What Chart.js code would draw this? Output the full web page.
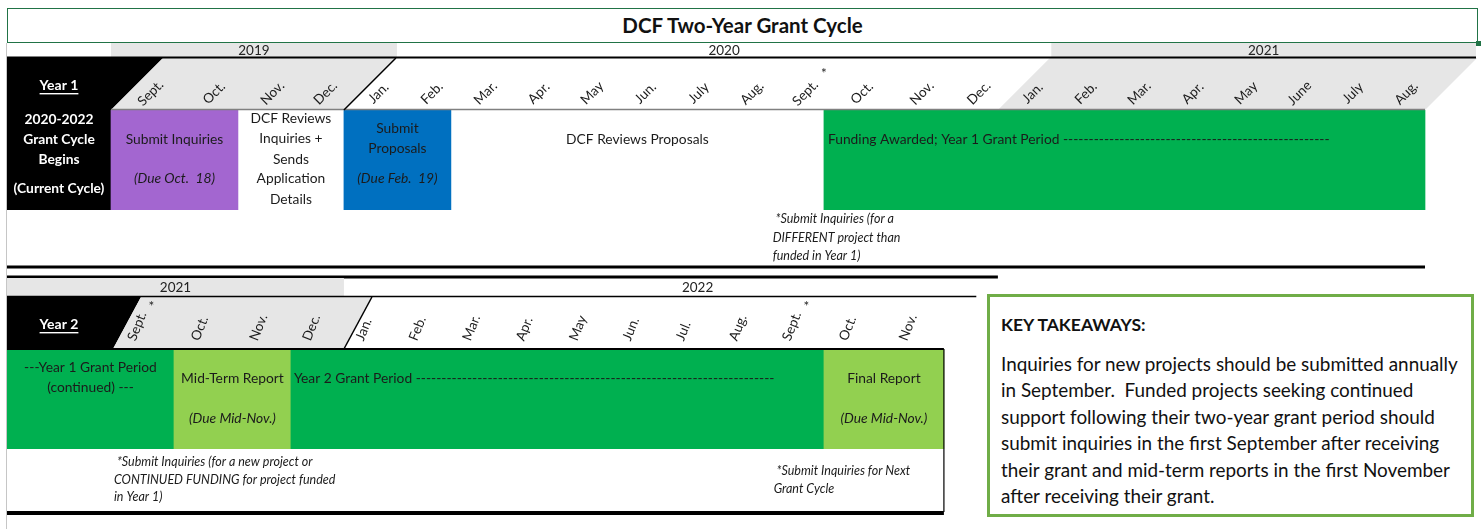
<!DOCTYPE html>
<html>
<head>
<meta charset="utf-8">
<title>DCF Two-Year Grant Cycle</title>
<script src="https://cdn.jsdelivr.net/npm/chart.js@4.4.1/dist/chart.umd.min.js"></script>
<style>
    html, body { margin: 0; padding: 0; background: #fff; }
    body { width: 1484px; height: 529px; position: relative; overflow: hidden; font-family: Lato, "Open Sans", sans-serif; color: #111; }
    #title-box {
        position: absolute; left: 7px; top: 7.5px; width: 1471px; height: 35px;
        box-sizing: border-box; border: 1.5px solid #217346;
        text-align: center; font-weight: bold; font-size: 20.5px; line-height: 32px;
    }
    #title-box .handle { position: absolute; right: -4px; bottom: -4px; width: 5px; height: 5px; background: #217346; }
    canvas { position: absolute; left: 0; }
    #year1 { top: 43px; }
    #year2 { top: 273px; }
    #takeaways {
        position: absolute; left: 987px; top: 294px; width: 487px; height: 223px;
        box-sizing: border-box; border: 3px solid #70AD47; background: #fff;
        padding: 17px 0 0 11px; white-space: nowrap;
    }
    #takeaways h3 { margin: 0; font-size: 17.5px; line-height: 22px; font-weight: bold; }
    #takeaways p { margin: 15px 0 0 0; font-size: 18.9px; line-height: 26.4px; }
</style>
</head>
<body>
<div id="title-box">DCF Two-Year Grant Cycle<div class="handle"></div></div>
<canvas id="year1" width="1484" height="230"></canvas>
<canvas id="year2" width="1484" height="256"></canvas>
<div id="takeaways">
    <h3>KEY TAKEAWAYS:</h3>
    <p>Inquiries for new projects should be submitted annually<br>
    in September.&nbsp; Funded projects seeking continued<br>
    support following their two-year grant period should<br>
    submit inquiries in the first September after receiving<br>
    their grant and mid-term reports in the first November<br>
    after receiving their grant.</p>
</div>
<script>
// ====== Chart Data ======
// x values count spreadsheet columns: 0 = label column, 1 = first Sept., ...
const year1Tasks = ['Grant Cycle Begins', 'Submit Inquiries', 'DCF Reviews Inquiries', 'Submit Proposals', 'DCF Reviews Proposals', 'Funding Awarded; Year 1 Grant Period'];
const year1Start = [0, 1, 3, 5, 7, 14];
const year1End = [1, 3, 5, 7, 14, 25];
const year1Months = ['Sept.', 'Oct.', 'Nov.', 'Dec.', 'Jan.', 'Feb.', 'Mar.', 'Apr.', 'May', 'Jun.', 'July', 'Aug.',
    'Sept.', 'Oct.', 'Nov.', 'Dec.', 'Jan.', 'Feb.', 'Mar.', 'Apr.', 'May', 'June', 'July', 'Aug.'];
const year1Starred = [12];
const year1Years = ['2019', '2020', '2021'];
const year1YearStart = [1, 6, 18];
const year1YearEnd = [6, 18, 26];

const year2Tasks = ['Year 1 Grant Period (continued)', 'Mid-Term Report', 'Year 2 Grant Period', 'Final Report'];
const year2Start = [0, 2, 4, 14];
const year2End = [2, 4, 14, 16];
const year2Months = ['Sept.', 'Oct.', 'Nov.', 'Dec.', 'Jan.', 'Feb.', 'Mar.', 'Apr.', 'May', 'Jun.', 'Jul.', 'Aug.',
    'Sept.', 'Oct.', 'Nov.'];
const year2Starred = [0, 12];
const year2Years = ['2021', '2022'];
const year2YearStart = [0, 5];
const year2YearEnd = [5, 18];

// ====== Layout & Styles ======
const FONT = 'Lato, "Open Sans", sans-serif';
const INK = '#1b1b1b';
const SHADE = '#e6e6e6';
const NONE = 'rgba(0,0,0,0)';
const CELL_SIZE = 13.8;
const year1Colors = ['#000000', '#a366d0', NONE, '#0070c0', NONE, '#00b050'];
const year2Colors = ['#00b050', '#92d050', '#00b050', '#92d050'];

// spreadsheet column widths (px) - label col, Sept..Aug, spare col
const COL_WIDTHS = [104, 63, 64, 53, 53, 53, 54,
    53.3, 53.3, 53.3, 53.3, 53.3, 53.3, 53.3,
    60, 60, 54,
    53.4, 53.4, 53.4, 53.4, 53.4, 53.4, 53.4, 53.4, 51];

// text inside each bar: [text, offset from bar top, style]
const year1Cells = [
    { color: '#fff', weight: 'bold', lines: [['2020-2022', 10], ['Grant Cycle', 30], ['Begins', 50], ['(Current Cycle)', 79]] },
    { lines: [['Submit Inquiries', 30], ['(Due Oct.  18)', 69, 'italic']] },
    { lines: [['DCF Reviews', 9], ['Inquiries +', 29], ['Sends', 50], ['Application', 69], ['Details', 90]] },
    { lines: [['Submit', 19], ['Proposals', 39], ['(Due Feb.  19)', 69, 'italic']] },
    { lines: [['DCF Reviews Proposals', 30]] },
    { align: 'left', dx: 4, lines: [['Funding Awarded; Year 1 Grant Period ', 30]], dashTo: 23.3 }
];
const year2Cells = [
    { lines: [['---Year 1 Grant Period', 19], ['(continued) ---', 39]] },
    { lines: [['Mid-Term Report', 30], ['(Due Mid-Nov.)', 70, 'italic']] },
    { align: 'left', dx: 3, lines: [['Year 2 Grant Period ', 30]], dashTo: 13.15 },
    { lines: [['Final Report', 30], ['(Due Mid-Nov.)', 70, 'italic']] }
];

// footnotes under the bars: column, x nudge, [text, offset from bar top]
const year1Notes = [
    { at: 13, dx: 2, lines: [[' *Submit Inquiries (for a', 109], ['DIFFERENT project than', 128], ['funded in Year 1)', 146]] }
];
const year2Notes = [
    { at: 1, dx: 3, lines: [[' *Submit Inquiries (for a new project or', 113], ['CONTINUED FUNDING for project funded', 131], ['in Year 1)', 148]] },
    { at: 13, dx: 3, lines: [[' *Submit Inquiries for Next', 122], ['Grant Cycle', 140]] }
];

// ====== Column Scale ======
// linear scale whose units are spreadsheet columns of uneven width
class ColumnScale extends Chart.LinearScale {
    static id = 'columns';
    static defaults = {};

    getPixelForValue(value) {
        const total = COL_WIDTHS.reduce((a, b) => a + b, 0);
        let acc = 0;
        for (let i = 0; i < COL_WIDTHS.length; i++) {
            const step = Math.min(1, value - i);
            if (step <= 0) break;
            acc += step * COL_WIDTHS[i];
        }
        return this.left + (acc / total) * this.width;
    }
}
Chart.register(ColumnScale);

// ====== Drawing Helpers ======
function text(ctx, str, x, y, o = {}) {
    ctx.save();
    ctx.font = `${o.style || ''} ${o.weight || ''} ${o.size || CELL_SIZE}px ${FONT}`;
    ctx.fillStyle = o.color || INK;
    ctx.textAlign = o.align || 'center';
    ctx.textBaseline = 'middle';
    if (o.angle) {
        ctx.translate(x, y);
        ctx.rotate(o.angle * Math.PI / 180);
        ctx.fillText(str, 0, 0);
    } else {
        ctx.fillText(str, x, y);
    }
    if (o.underline) {
        const w = ctx.measureText(str).width;
        ctx.fillRect(x - w / 2, y + 8, w, 1.4);
    }
    ctx.restore();
}

function line(ctx, x0, y0, x1, y1, color, width) {
    ctx.save();
    ctx.strokeStyle = color;
    ctx.lineWidth = width;
    ctx.beginPath();
    ctx.moveTo(x0, y0);
    ctx.lineTo(x1, y1);
    ctx.stroke();
    ctx.restore();
}

function poly(ctx, pts, color) {
    ctx.save();
    ctx.fillStyle = color;
    ctx.beginPath();
    pts.forEach(([x, y], i) => i ? ctx.lineTo(x, y) : ctx.moveTo(x, y));
    ctx.closePath();
    ctx.fill();
    ctx.restore();
}

function drawCells(chart, cells) {
    const ctx = chart.ctx;
    const X = v => chart.scales.x.getPixelForValue(v);
    chart.getDatasetMeta(0).data.forEach((bar, i) => {
        const cell = cells[i];
        const { x, base, y, height } = bar.getProps(['x', 'base', 'y', 'height'], true);
        const left = Math.min(x, base), right = Math.max(x, base);
        const top = y - height / 2;
        cell.lines.forEach(([str, dy, style]) => {
            const o = { color: cell.color, weight: cell.weight, style, align: cell.align };
            let tx = (left + right) / 2;
            let label = str;
            if (cell.align === 'left') {
                tx = left + cell.dx;
                if (cell.dashTo) {
                    ctx.font = `${CELL_SIZE}px ${FONT}`;
                    const room = X(cell.dashTo) - tx;
                    while (ctx.measureText(label + '-').width <= room) label += '-';
                }
            }
            text(ctx, label, tx, top + dy, o);
        });
    });
}

function drawNotes(chart, notes) {
    const ctx = chart.ctx;
    const T = chart.chartArea.top;
    const x0 = chart.scales.x.getPixelForValue(0);
    notes.forEach(n => {
        const tx = chart.scales.x.getPixelForValue(n.at) + n.dx;
        n.lines.forEach(([str, dy]) => text(ctx, str, tx, T + dy, { style: 'italic', size: 12.5, align: 'left' }));
    });
    // spreadsheet edge on the left
    line(ctx, x0 - 0.5, 0, x0 - 0.5, chart.height, '#c6c6c6', 1);
}

function drawMonths(chart, months, starred, o) {
    const ctx = chart.ctx;
    const X = v => chart.scales.x.getPixelForValue(v);
    const T = chart.chartArea.top;
    months.forEach((m, i) => {
        const cx = (X(i + 1) + X(i + 2)) / 2;
        text(ctx, m, cx + o.dx, T + o.dy, { size: 13.5, angle: o.angle, align: o.align });
        if (starred.includes(i)) text(ctx, '*', cx + o.starDx, T + o.starDy, { size: 13.5 });
    });
}

function drawYears(chart, years, starts, ends, shaded, top, bottom) {
    const ctx = chart.ctx;
    const X = v => chart.scales.x.getPixelForValue(v);
    const T = chart.chartArea.top;
    years.forEach((yr, i) => {
        const x0 = X(starts[i]), x1 = X(ends[i]);
        if (shaded.includes(i)) {
            ctx.fillStyle = SHADE;
            ctx.fillRect(x0, T + top, x1 - x0, bottom - top);
        }
        text(ctx, yr, (x0 + x1) / 2, T + (top + bottom) / 2 + 0.5, { size: 13.5, color: '#222' });
    });
}

// ====== Year 1 Frame ======
function drawYear1Frame(chart) {
    const ctx = chart.ctx;
    const X = v => chart.scales.x.getPixelForValue(v);
    const T = chart.chartArea.top, B = chart.chartArea.bottom;
    const S = 52; // header height and slant

    drawYears(chart, year1Years, year1YearStart, year1YearEnd, [0, 2], -67, -52.5);

    poly(ctx, [[X(0), T - S], [X(1) + S, T - S], [X(1), T], [X(0), T]], '#000');
    poly(ctx, [[X(1), T], [X(5), T], [X(5) + S, T - S], [X(1) + S, T - S]], SHADE);
    poly(ctx, [[X(17), T], [X(25), T], [X(25) + S, T - S], [X(17) + S, T - S]], SHADE);

    line(ctx, X(0), T - S - 0.5, X(26), T - S - 0.5, '#000', 2);
    line(ctx, X(1), T - 0.5, X(25), T - 0.5, '#808080', 1.5);
    line(ctx, X(5), T, X(5) + S, T - S, '#000', 1.5);
    line(ctx, X(0), B + 57, X(25), B + 57, '#000', 3);

    text(ctx, 'Year 1', (X(0) + X(1)) / 2, T - 25, { color: '#fff', weight: 'bold', size: 14, underline: true });
    drawMonths(chart, year1Months, year1Starred, { dx: 8, dy: -17, angle: -45, starDx: 26.5, starDy: -36 });
    drawCells(chart, year1Cells);
    drawNotes(chart, year1Notes);
}

// ====== Year 2 Frame ======
function drawYear2Frame(chart) {
    const ctx = chart.ctx;
    const X = v => chart.scales.x.getPixelForValue(v);
    const T = chart.chartArea.top, B = chart.chartArea.bottom;
    const H = 52, S = 28;

    line(ctx, X(0), T - 72, X(17), T - 72, '#000', 3);
    drawYears(chart, year2Years, year2YearStart, year2YearEnd, [0], -71, -53);

    poly(ctx, [[X(0), T - H], [X(1) + 2 + S, T - H], [X(1) + 2, T], [X(0), T]], '#000');
    poly(ctx, [[X(1) + 2, T], [X(5), T], [X(5) + S, T - H], [X(1) + 2 + S, T - H]], SHADE);

    line(ctx, X(0), T - H - 0.5, X(16.6), T - H - 0.5, '#000', 1.5);
    line(ctx, X(5), T, X(5) + S, T - H, '#000', 1.5);
    line(ctx, X(0), T, X(16), T, '#000', 2);
    line(ctx, X(16), T, X(16), B + 63, '#000', 1.2);
    line(ctx, X(0), B + 64, X(16), B + 64, '#000', 4);

    text(ctx, 'Year 2', (X(0) + X(1)) / 2, T - 25, { color: '#fff', weight: 'bold', size: 14, underline: true });
    drawMonths(chart, year2Months, year2Starred, { dx: -11, dy: -9, angle: -68, align: 'left', starDx: 9, starDy: -42 });
    drawCells(chart, year2Cells);
    drawNotes(chart, year2Notes);
}

const timelinePlugin = {
    id: 'timeline',
    afterDatasetsDraw(chart) {
        if (chart.canvas.id === 'year1') drawYear1Frame(chart);
        else drawYear2Frame(chart);
    }
};

// ====== Charts ======
function makeChart(id, tasks, starts, ends, colors, padding) {
    return new Chart(document.getElementById(id), {
        type: 'bar',
        data: {
            labels: ['row'],
            datasets: [{
                label: tasks.join(' / '),
                data: starts.map((s, i) => ({ x: [s, ends[i]], y: 'row' })),
                backgroundColor: colors,
                borderWidth: 0,
                barPercentage: 1,
                categoryPercentage: 1
            }]
        },
        options: {
            indexAxis: 'y',
            responsive: false,
            animation: false,
            events: [],
            layout: { padding },
            scales: {
                x: { type: 'columns', min: 0, max: 26, display: false },
                y: { display: false }
            },
            plugins: {
                legend: { display: false },
                tooltip: { enabled: false }
            }
        },
        plugins: [timelinePlugin]
    });
}

makeChart('year1', year1Tasks, year1Start, year1End, year1Colors, { left: 7, right: 8, top: 67, bottom: 63 });
makeChart('year2', year2Tasks, year2Start, year2End, year2Colors, { left: 7, right: 8, top: 76, bottom: 80 });
</script>
</body>
</html>
